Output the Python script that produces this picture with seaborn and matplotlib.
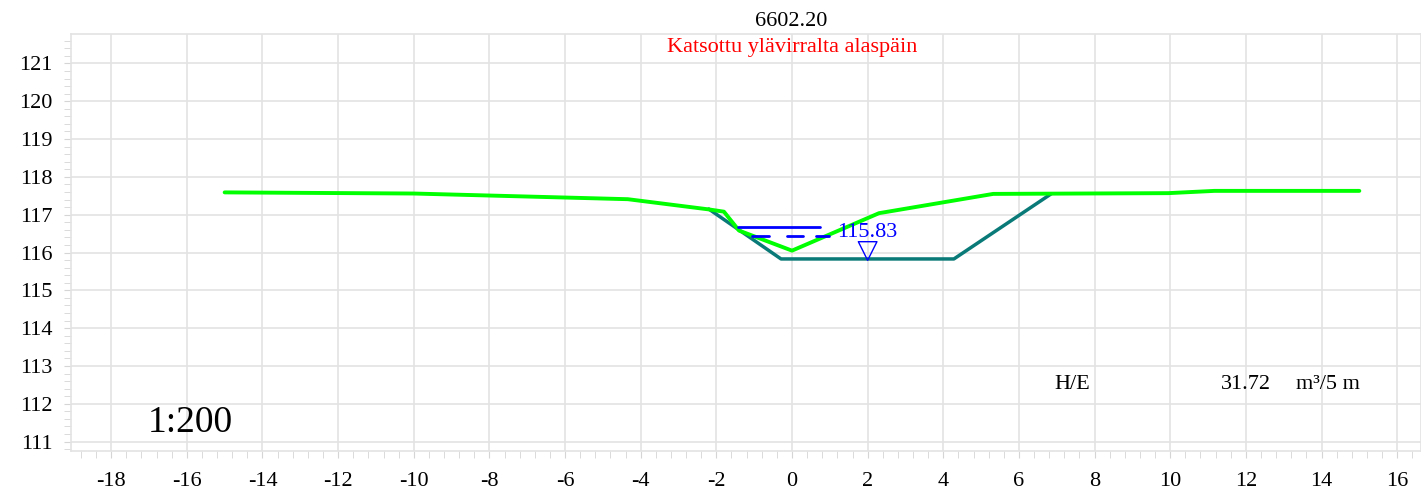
import matplotlib

matplotlib.use('Agg')
import matplotlib.pyplot as plt
from matplotlib.ticker import MultipleLocator
import numpy as np
import pandas as pd
import seaborn as sns

# ground profile (measured)
ground_x = [-15.0, -10.0, -4.34, -2.2, -1.8, -1.4, 0.0, 2.3, 5.32, 9.95, 11.17, 15.0]
ground_y = [117.59, 117.56, 117.41, 117.14, 117.08, 116.58, 116.05, 117.04, 117.55, 117.57, 117.63, 117.63]

# design section
design_x = [-2.2, -0.29, 4.28, 6.85]
design_y = [117.15, 115.83, 115.83, 117.55]

# water level symbol
wl_x = 2.0
wl_level = 115.83
wl_top_x = [-1.43, 0.75]
wl_top_y = [116.68, 116.68]
wl_dash_x = [[-1.05, -0.6], [-0.12, 0.28], [0.63, 0.98]]
wl_dash_y = 116.44

station = "6602.20"
subtitle = "Katsottu ylävirralta alaspäin"
scale_txt = "1:200"
volume = "31.72"

sns.set_style("white")
plt.rcParams['font.family'] = ['Liberation Serif', 'DejaVu Serif']
plt.rcParams['text.color'] = 'black'

fig = plt.figure(figsize=(14.21, 4.93), dpi=100)
ax = fig.add_axes([70.7 / 1421, 42.3 / 493, 1 - 70.7 / 1421, 416.4 / 493])

grid_c = '#e3e3e3'
df_g = pd.DataFrame({'x': ground_x, 'y': ground_y})
df_d = pd.DataFrame({'x': design_x, 'y': design_y})

sns.lineplot(data=df_d, x='x', y='y', sort=False, color='#0a7a78', lw=2.5, ax=ax, zorder=3)
sns.lineplot(data=df_g, x='x', y='y', sort=False, color='#00ff00', lw=2.8, ax=ax, zorder=4)

sns.lineplot(x=wl_top_x, y=wl_top_y, color='#0000ff', lw=2.0, ax=ax, zorder=5)
for seg in wl_dash_x:
    sns.lineplot(x=seg, y=[wl_dash_y] * 2, color='#0000ff', lw=2.0, ax=ax, zorder=5)
ax.scatter([wl_x], [wl_level + 0.21], marker='v', s=180, facecolors='none',
           edgecolors='#0000ff', linewidths=1.0, zorder=6)
ax.text(1.19, 116.53, f"{wl_level:.2f}", color='#0000ff', fontsize=16,
        ha='left', va='center', zorder=6)

ax.set_xlim(-19.07, 16.63)
ax.set_ylim(110.76, 121.77)
ax.xaxis.set_major_locator(MultipleLocator(2))
ax.xaxis.set_minor_locator(MultipleLocator(0.4))
ax.yaxis.set_major_locator(MultipleLocator(1))
ax.yaxis.set_minor_locator(MultipleLocator(0.2))
ax.grid(True, which='major', color=grid_c, lw=1.2)
ax.set_axisbelow(True)
for s in ax.spines.values():
    s.set_color(grid_c)
    s.set_linewidth(1.2)
ax.tick_params(axis='both', which='both', color='#d5d5d5', labelsize=16, labelcolor='black')
ax.tick_params(axis='x', which='both', length=5, pad=10, bottom=True)
ax.tick_params(axis='y', which='both', length=5, pad=8, left=True)
ax.set_xticklabels([f"{int(t)}" for t in ax.get_xticks()])
ax.set_yticklabels([f"{int(t)}" for t in ax.get_yticks()])
ax.set_xlabel('')
ax.set_ylabel('')

fig.text(791 / 1421, 1 - 22 / 493, station, fontsize=16, ha='center', va='center')
ax.text(0.0, 121.43, subtitle, color='#ff0000', fontsize=16, ha='center', va='center')
ax.text(-17.04, 111.49, scale_txt, fontsize=27, ha='left', va='center')
ax.text(6.93, 112.51, "H/E", fontsize=16, ha='left', va='center')
ax.text(11.35, 112.51, volume, fontsize=16, ha='left', va='center')
ax.text(13.33, 112.51, "m³/5 m", fontsize=16, ha='left', va='center')

fig.savefig('out.png', dpi=100)
plt.close(fig)
